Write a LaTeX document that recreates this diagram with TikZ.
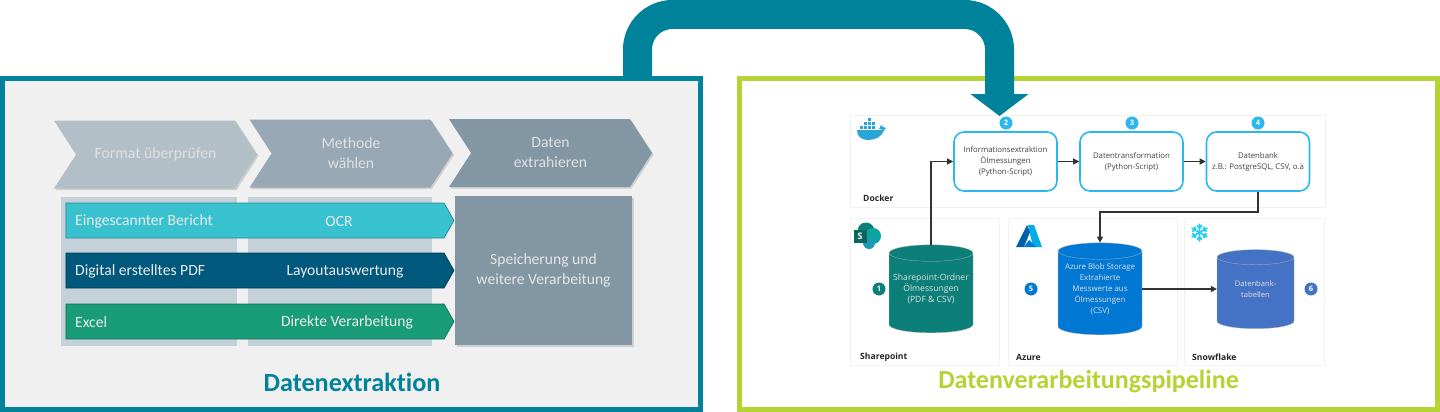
\documentclass[tikz,border=0pt]{standalone}
\usepackage{fontspec}
\usepackage{xcolor}
\setmainfont{Open Sans}
\newfontfamily\carlito[Ligatures=NoCommon]{Carlito}
\usetikzlibrary{arrows.meta,shadows,shapes.geometric,shapes.symbols}
\definecolor{tealline}{HTML}{00839A}
\definecolor{limeline}{HTML}{B5D334}
\definecolor{panelgrey}{HTML}{F0F0F0}
\definecolor{chevlight}{HTML}{B3BFC6}
\definecolor{chevmid}{HTML}{97A8B4}
\definecolor{chevdark}{HTML}{8296A4}
\definecolor{columngrey}{HTML}{C5D1D9}
\definecolor{barcyan}{HTML}{38C1CE}
\definecolor{barblue}{HTML}{00587C}
\definecolor{bargreen}{HTML}{199D78}
\definecolor{boxcyan}{HTML}{2DB7F0}
\definecolor{shareteal}{HTML}{0C7F78}
\definecolor{azureblue}{HTML}{0078D4}
\definecolor{snowblue}{HTML}{4472C4}
\begin{document}
\begin{tikzpicture}[
      x = 1pt, y = -1pt,
      softshadow/.style = {drop shadow = {shadow xshift = 1.5pt, shadow yshift = -1.5pt, opacity = .14, fill = black}},
      panel/.style = {draw, line width = 5pt, rectangle, minimum width = 698pt, minimum height = 331pt},
      chevron/.style = {signal, signal to = east, signal from = west, signal pointer angle = 114, fill = #1, text = white!88!black, softshadow,
            inner sep = 0pt, minimum width = 203pt, minimum height = 68pt, align = center, font = \carlito\fontsize{15.7}{20}\selectfont},
      column/.style = {rectangle, fill = columngrey, inner sep = 0pt, minimum height = 149pt},
      bar/.style = {signal, signal to = east, fill = #1, draw = #1!70!black, line width = .7pt, signal pointer angle = 121,
            inner sep = 0pt, minimum width = 388pt, minimum height = 35pt},
      bartext/.style = {text = white!92!black, inner sep = 0pt, font = \carlito\fontsize{15.6}{18}\selectfont},
      title/.style = {inner sep = 0pt, font = \carlito\bfseries\fontsize{#1}{28}\selectfont},
      zone/.style = {draw = black!5, line width = .8pt, rectangle},
      zonetext/.style = {inner sep = 0pt, anchor = west, font = \bfseries\fontsize{8.6}{10}\selectfont, text = black!85},
      stepbox/.style = {draw = boxcyan, line width = 1.6pt, fill = white, rectangle, rounded corners = 10pt, minimum width = 103pt, minimum height = 59pt,
            inner sep = 0pt, align = center, text = black!75, font = \fontsize{7.8}{11}\selectfont},
      store/.style = {cylinder, shape border rotate = 90, aspect = .25, draw = white!70!black, line width = .3pt, inner sep = 0pt},
      storetext/.style = {inner sep = 0pt, align = center, text = white!88!black, font = \fontsize{#1}{11}\selectfont},
      badge/.style = {circle, fill = #1, text = white, inner sep = 0pt, minimum size = 13pt, font = \bfseries\fontsize{7.5}{8}\selectfont},
      link/.style = {draw = black!80, line width = 1.1pt, -{Triangle[length = 6pt, width = 6pt]}}
      ]
      \useasboundingbox (0,0) rectangle (1440,412);
      \node[panel, draw = tealline, fill = panelgrey] (extractpanel) at (351.5,244) {};
      \node[panel, draw = limeline, fill = white] (pipepanel) at (1088.5,244) {};

      \node[chevron = chevlight] (checkchev) at (155.5,154.5) {Format überprüfen};
      \node[chevron = chevmid] (methodchev) at (351,153.5) {Methode\\wählen};
      \node[chevron = chevdark] (datachev) at (550.5,153) {Daten\\extrahieren};

      \node[column, minimum width = 176pt] (colone) at (149,271.5) {};
      \node[column, minimum width = 184pt] (coltwo) at (340,271.5) {};
      \node[column, fill = chevdark, softshadow, minimum width = 177pt, align = center, text = white!90!black, font = \carlito\fontsize{15.6}{20}\selectfont] (savebox) at (543.5,270.5) {Speicherung und\\weitere Verarbeitung};

      \node[bar = barcyan] (barone) at (255,220.5) {};
      \node[bar = barblue] (bartwo) at (255,270.5) {};
      \node[bar = bargreen] (barthree) at (255,321.5) {};
      \node[bartext, anchor = west] (scantext) at (75,221.5) {Eingescannter Bericht};
      \node[bartext, anchor = west] (pdftext) at (75,271.5) {Digital erstelltes PDF};
      \node[bartext, anchor = west] (exceltext) at (75,322) {Excel};
      \node[bartext] (ocrtext) at (339,221.5) {OCR};
      \node[bartext] (layouttext) at (345,271.5) {Layoutauswertung};
      \node[bartext] (directtext) at (347,322) {Direkte Verarbeitung};
      \node[title = 26.2, text = tealline] (extracttitle) at (352,382) {Datenextraktion};

      \node[zone, minimum width = 475pt, minimum height = 92pt] (dockerzone) at (1087.5,161) {};
      \node[zone, minimum width = 149pt, minimum height = 147pt] (sharezone) at (924.5,291.5) {};
      \node[zone, minimum width = 169pt, minimum height = 147pt] (azurezone) at (1092.5,291.5) {};
      \node[zone, minimum width = 140pt, minimum height = 147pt] (snowzone) at (1254,291.5) {};
      \node[zonetext] (dockertext) at (863,198) {Docker};
      \node[zonetext] (sharetext) at (860,357) {Sharepoint};
      \node[zonetext] (azuretext) at (1016,357) {Azure};
      \node[zonetext] (snowtext) at (1192,357) {Snowflake};

      \node[stepbox] (extractbox) at (1005.5,161.5) {Informationsextraktion\\Ölmessungen\\(Python-Script)};
      \node[stepbox] (transformbox) at (1131.5,161.5) {Datentransformation\\(Python-Script)};
      \node[stepbox] (databox) at (1258,161.5) {Datenbank\\z.B.: PostgreSQL, CSV, o.ä};

      \node[store, fill = shareteal, minimum width = 84pt, minimum height = 88pt] (sharestore) at (931,293) {\rule{66pt}{0pt}};
      \node[store, fill = azureblue, minimum width = 84pt, minimum height = 92pt] (blobstore) at (1100,293) {\rule{66pt}{0pt}};
      \node[store, fill = snowblue, minimum width = 77pt, minimum height = 79pt] (tablestore) at (1255.5,293) {\rule{60pt}{0pt}};
      \node[storetext = 8.6] (sharelabel) at (931,289) {Sharepoint-Ordner\\Ölmessungen\\(PDF \& CSV)};
      \node[storetext = 7.9] (bloblabel) at (1100,289) {Azure Blob Storage\\Extrahierte\\Messwerte aus\\Ölmessungen\\(CSV)};
      \node[storetext = 7.6] (tablelabel) at (1255.5,289.5) {Datenbank-\\tabellen};

      \foreach \num/\xx/\yy/\col in {1/879/289/shareteal, 2/1006/123/boxcyan, 3/1132/123/boxcyan, 4/1258/123/boxcyan, 5/1031/289/azureblue, 6/1311/289/snowblue}
            \node[badge = \col] (badge\num) at (\xx,\yy) {\num};

      \coordinate (bendpoint) at (1180,212);
      \draw[link] (sharestore.north) |- (extractbox.west);
      \draw[link] (extractbox.east) -- (transformbox.west);
      \draw[link] (transformbox.east) -- (databox.west);
      \draw[link] (databox.south) |- (bendpoint) -| (blobstore.north);
      \draw[link] (blobstore.east |- badge5) -- (tablestore.west |- badge5);

      \coordinate (flowstart) at (637.5,77);
      \coordinate (flowleft) at (637.5,14.5);
      \coordinate (flowright) at (999.5,14.5);
      \coordinate (flowend) at (999.5,116);
      \draw[tealline, line width = 29pt, rounded corners = 35pt, -{Triangle[length = 22pt, width = 57pt]}] (flowstart) -- (flowleft) -- (flowright) -- (flowend);

      \fill[boxcyan!90!black] (857,130) -- (884,130) .. controls (882,137) and (875,140) .. (868,140) .. controls (861,140) and (857,136) .. (857,130) -- cycle;
      \foreach \xx/\yy in {860/126, 864/126, 868/126, 872/126, 864/122, 868/122, 872/122, 868/118}
            \fill[boxcyan!90!black] (\xx,\yy) rectangle ++(3,3);
      \fill[boxcyan!90!black] (879,129) -- (881,125) -- (883,127) -- (886,128) -- (884,130) -- cycle;

      \fill[shareteal] (866,231) circle (8.5pt);
      \fill[shareteal!70!cyan] (873,236) circle (8pt);
      \fill[boxcyan!50!shareteal] (869,243) circle (6pt);
      \node[rectangle, fill = shareteal!80!black, text = white, inner sep = 0pt, minimum size = 13pt, font = \bfseries\fontsize{9}{10}\selectfont] (shareicon) at (860,236) {S};

      \fill[azureblue!60!cyan] (1028,225) -- (1034,225) -- (1042,247) -- (1033,247) -- cycle;
      \fill[azureblue!80!black] (1027,225) -- (1016,247) -- (1024,247) -- (1030,232) -- cycle;
      \fill[azureblue] (1024,247) -- (1036,247) -- (1029,240) -- cycle;

      \foreach \ang in {0,60,...,300}
            \draw[boxcyan!70!cyan, line width = 1.6pt, shift = {(1199.5,232.5)}, rotate = \ang] (0,0) -- (0,9) (-2.5,7) -- (0,4.5) -- (2.5,7);
      \node[title = 26, text = limeline] (pipetitle) at (1088.5,382) {Datenverarbeitungspipeline};
    \end{tikzpicture}
\end{document}
